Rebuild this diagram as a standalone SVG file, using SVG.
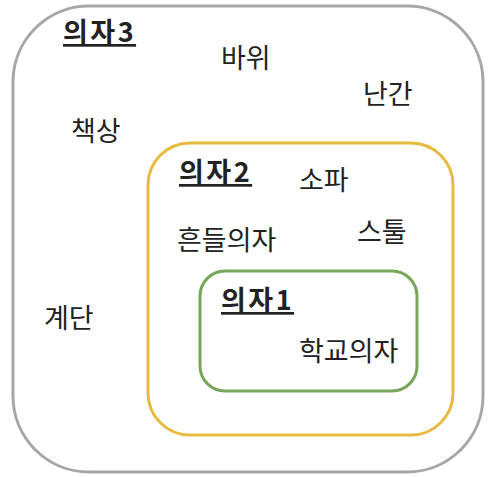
<svg xmlns="http://www.w3.org/2000/svg" width="503" height="477" viewBox="0 0 503 477">
<style>
.t{font-family:"Noto Sans CJK KR","Noto Sans",sans-serif;font-size:27px;fill:#222}
.h{font-size:27px;font-weight:bold;letter-spacing:2.5px;text-decoration:underline}
</style>
<rect width="503" height="477" fill="#fff"/>
<g id="chair3">
<rect x="13" y="6" width="470" height="466" rx="76" ry="76" fill="none" stroke="#a6a6a6" stroke-width="3"/>
<text class="t h" x="63" y="42">의자3</text>
<text class="t" x="221" y="68">바위</text>
<text class="t" x="363" y="104">난간</text>
<text class="t" x="71" y="141">책상</text>
<text class="t" x="44" y="328">계단</text>
</g>
<g id="chair2">
<rect x="148" y="143" width="305" height="292" rx="42" ry="42" fill="none" stroke="#e6bb3f" stroke-width="3"/>
<text class="t h" x="179" y="182">의자2</text>
<text class="t" x="299" y="190">소파</text>
<text class="t" x="177" y="250">흔들의자</text>
<text class="t" x="357" y="242">스툴</text>
</g>
<g id="chair1">
<rect x="200" y="271" width="217" height="120" rx="25" ry="25" fill="none" stroke="#77a55a" stroke-width="3"/>
<text class="t h" x="221" y="310">의자1</text>
<text class="t" x="299" y="361">학교의자</text>
</g>
<g id="connectors"></g>
</svg>
